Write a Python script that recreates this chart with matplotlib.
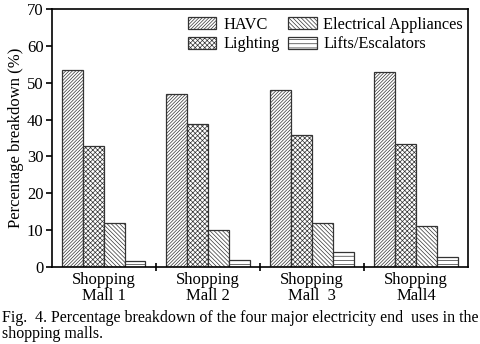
import numpy as np
import matplotlib.pyplot as plt

plt.rcParams['font.family'] = 'Liberation Serif'
plt.rcParams['hatch.linewidth'] = 0.5
plt.rcParams['hatch.color'] = '#666666'

malls = ["Shopping\nMall 1", "Shopping\nMall 2", "Shopping\nMall  3", "Shopping\nMall4"]
uses = ["HAVC", "Lighting", "Electrical Appliances", "Lifts/Escalators"]
havc = [53.5, 46.8, 48.0, 52.8]
lighting = [32.8, 38.7, 35.9, 33.3]
appliances = [12.0, 10.1, 12.0, 11.0]
lifts = [1.5, 1.9, 4.1, 2.7]

hatches = ['//////////', 'xxxxxxx', '\\\\\\\\\\\\\\\\', '----']

fig = plt.figure(figsize=(4.8, 3.44), dpi=100)
ax = fig.add_axes([0.108, 0.224, 0.867, 0.75])

x = np.arange(1, len(malls) + 1)
w = 0.2
series = [havc, lighting, appliances, lifts]
for i, vals in enumerate(series):
    ax.bar(x + (i - 1.5) * w, vals, w, facecolor='white', edgecolor='#333333',
           linewidth=0.9, hatch=hatches[i], label=uses[i])

ax.set_xlim(0.5, 4.5)
ax.set_ylim(0, 70)
ax.set_yticks(np.arange(0, 71, 10))
ax.set_xticks(x)
ax.set_xticklabels(malls, fontsize=12, linespacing=0.95)
ax.tick_params(axis='x', length=0, pad=4)
ax.set_xticks([1.5, 2.5, 3.5], minor=True)
ax.tick_params(axis='x', which='minor', length=6, direction='inout', width=1.2)
ax.tick_params(axis='y', labelsize=12, length=4, width=1.2, pad=2)
for s in ax.spines.values():
    s.set_linewidth(1.2)
ax.set_ylabel("Percentage breakdown (%)", fontsize=12, labelpad=2)

ax.legend(ncol=2, loc='upper right', frameon=False, fontsize=11.8,
          handlelength=1.75, handleheight=0.75, columnspacing=0.5,
          handletextpad=0.42, labelspacing=0.2, borderaxespad=0.1,
          bbox_to_anchor=(1.008, 1.0))

fig.text(0.005, 0.10, "Fig.  4. Percentage breakdown of the four major electricity end  uses in the\nshopping malls.",
         fontsize=11.5, va='top', ha='left', linespacing=1.05)

fig.savefig('out.png', dpi=100)
